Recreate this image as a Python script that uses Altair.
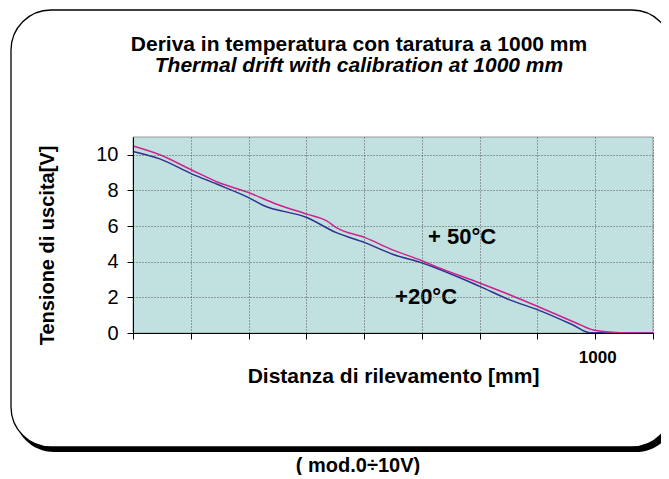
import altair as alt
import pandas as pd

# +20°C curve (blue)
dist_20 = [0, 58, 127, 181, 249, 281, 376, 440, 502, 563, 624, 750, 815, 876, 952, 988, 1125]
volt_20 = [10.19, 9.77, 8.93, 8.36, 7.61, 7.17, 6.48, 5.63, 5.07, 4.41, 3.94, 2.62, 1.86, 1.30, 0.45, 0.02, 0.0]
# +50°C curve (magenta)
dist_50 = [0, 58, 127, 184, 249, 311, 376, 419, 440, 502, 563, 624, 657, 750, 876, 960, 996, 1053, 1125]
volt_50 = [10.49, 10.0, 9.15, 8.46, 7.89, 7.23, 6.67, 6.29, 5.91, 5.35, 4.65, 4.07, 3.71, 2.81, 1.49, 0.55, 0.17, 0.02, 0.0]

series_names = ["+20°C", "+50°C"]
series_colors = ["#30308f", "#d0208e"]

x_ticks = [0, 125, 250, 375, 500, 625, 750, 875, 1000, 1125]
y_ticks = [0, 2, 4, 6, 8, 10]

label_text = ["+ 50°C", "+20°C"]
label_x = [712, 634]
label_y = [5.4, 2.04]

title_text = "Deriva in temperatura con taratura a 1000 mm"
subtitle_text = "Thermal drift with calibration at 1000 mm"
x_title = "Distanza di rilevamento [mm]"
y_title = "Tensione di uscita[V]"
note_text = "( mod.0÷10V)"

FONT = "Liberation Sans"
W, H = 520, 196

lines_df = pd.concat([
    pd.DataFrame({"d": dist_20, "v": volt_20, "s": series_names[0]}),
    pd.DataFrame({"d": dist_50, "v": volt_50, "s": series_names[1]}),
])
labels_df = pd.DataFrame({"t": label_text, "d": label_x, "v": label_y})
one = pd.DataFrame({"k": [0]})

x_axis = alt.Axis(
    values=x_ticks,
    labelExpr="datum.value == 1000 ? '1000' : ''",
    labelFontWeight="bold",
    labelFontSize=17,
    labelPadding=10,
    labelOffset=2,
    labelOverlap=False,
    labelFlush=False,
    title=x_title,
    titleFontSize=21,
    titleFontWeight="bold",
    titleY=43,
    titleBaseline="middle",
    grid=True,
    gridDash=[1, 2],
    gridColor="#555555",
    gridWidth=1,
    tickSize=6,
    tickColor="black",
    domainColor="black",
    zindex=1,
)
y_axis = alt.Axis(
    values=y_ticks,
    tickCount=6,
    labelFontSize=20,
    labelPadding=9,
    labelOverlap=False,
    labelFlush=False,
    title=y_title,
    titleFontSize=20,
    titleFontWeight="bold",
    titleX=-86,
    titleY=108,
    titleBaseline="middle",
    grid=True,
    gridDash=[1, 2],
    gridColor="#555555",
    gridWidth=1,
    tickSize=6,
    tickColor="black",
    domainColor="black",
    zindex=1,
)
x_scale = alt.Scale(domain=[0, 1125], nice=False, zero=False)
y_scale = alt.Scale(domain=[0, 11], nice=False, zero=False)

shadow = alt.Chart(one).mark_rect(cornerRadius=40, color="black").encode(
    x=alt.value(-119), x2=alt.value(543), y=alt.value(-122), y2=alt.value(315)
)
frame = alt.Chart(one).mark_rect(
    cornerRadius=40, fill="white", stroke="black", strokeWidth=1.3
).encode(x=alt.value(-122), x2=alt.value(539), y=alt.value(-127), y2=alt.value(310))
bg = alt.Chart(one).mark_rect(fill="#c0e1df", stroke="#9a9a9a", strokeWidth=1).encode(
    x=alt.value(0), x2=alt.value(W), y=alt.value(0), y2=alt.value(H)
)

lines = alt.Chart(lines_df).mark_line(strokeWidth=1.5, interpolate="monotone").encode(
    x=alt.X("d:Q", scale=x_scale, axis=x_axis),
    y=alt.Y("v:Q", scale=y_scale, axis=y_axis),
    color=alt.Color(
        "s:N",
        scale=alt.Scale(domain=series_names, range=series_colors),
        legend=None,
    ),
)

labels = alt.Chart(labels_df).mark_text(
    font=FONT, fontSize=22, fontWeight="bold", color="black"
).encode(
    x=alt.X("d:Q", scale=x_scale, axis=x_axis),
    y=alt.Y("v:Q", scale=y_scale, axis=y_axis),
    text="t:N",
)

title_mark = alt.Chart(one).mark_text(
    font=FONT, fontSize=21, fontWeight="bold", color="black"
).encode(x=alt.value(226), y=alt.value(-92), text=alt.value(title_text))
subtitle_mark = alt.Chart(one).mark_text(
    font=FONT, fontSize=21, fontWeight="bold", fontStyle="italic", color="black"
).encode(x=alt.value(226), y=alt.value(-71), text=alt.value(subtitle_text))

note = alt.Chart(one).mark_text(
    font=FONT, fontSize=20, fontWeight="bold", color="black"
).encode(x=alt.value(225), y=alt.value(329), text=alt.value(note_text))

chart = (
    alt.layer(shadow, frame, bg, lines, labels, title_mark, subtitle_mark, note)
    .properties(
        width=W,
        height=H,
        autosize=alt.AutoSizeParams(type="none"),
        padding={"left": 125, "top": 129, "right": 8, "bottom": 142},
    )
    .configure(font=FONT)
    .configure_axis(labelFont=FONT, titleFont=FONT, labelColor="black", titleColor="black")
    .configure_view(strokeWidth=0)
)

chart.save("out.html", embed_options={"renderer": "svg", "actions": False})
